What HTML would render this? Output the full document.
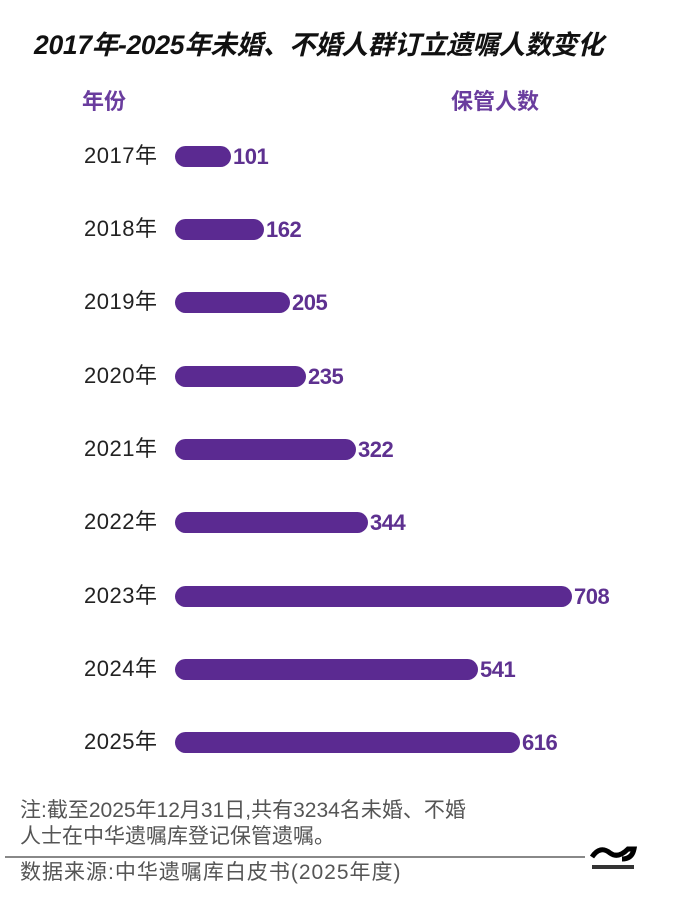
<!DOCTYPE html>
<html><head><meta charset="utf-8"><style>
body{margin:0;width:680px;height:923px;background:#fff;position:relative;font-family:"Liberation Sans","Noto Sans CJK SC",sans-serif;overflow:hidden}
.t{position:absolute;white-space:nowrap;line-height:1}
.title{left:34px;top:32px;font-size:26.5px;font-weight:bold;font-style:italic;color:#111;letter-spacing:-0.3px}
.h{top:91px;font-size:22px;font-weight:bold;color:#6a3d9e}
.y{left:84px;font-size:22px;color:#222;letter-spacing:0.5px}
.bar{position:absolute;left:175px;height:21px;border-radius:11px;background:#5b2a91}
.v{font-size:22px;font-weight:bold;color:#5e3190;letter-spacing:-0.5px}
.n{font-size:21px;color:#555;left:20px;letter-spacing:0px}
</style></head><body>
<div class="t title">2017年-2025年未婚、不婚人群订立遗嘱人数变化</div>
<div class="t h" style="left:82px">年份</div>
<div class="t h" style="left:451px">保管人数</div>

<div class="t y" style="top:145px">2017年</div><div class="bar" style="top:146px;width:56px"></div><div class="t v" style="left:233px;top:146px">101</div>
<div class="t y" style="top:218px">2018年</div><div class="bar" style="top:219px;width:89px"></div><div class="t v" style="left:266px;top:219px">162</div>
<div class="t y" style="top:291px">2019年</div><div class="bar" style="top:292px;width:115px"></div><div class="t v" style="left:292px;top:292px">205</div>
<div class="t y" style="top:365px">2020年</div><div class="bar" style="top:366px;width:131px"></div><div class="t v" style="left:308px;top:366px">235</div>
<div class="t y" style="top:438px">2021年</div><div class="bar" style="top:439px;width:181px"></div><div class="t v" style="left:358px;top:439px">322</div>
<div class="t y" style="top:511px">2022年</div><div class="bar" style="top:512px;width:193px"></div><div class="t v" style="left:370px;top:512px">344</div>
<div class="t y" style="top:585px">2023年</div><div class="bar" style="top:586px;width:397px"></div><div class="t v" style="left:574px;top:586px">708</div>
<div class="t y" style="top:658px">2024年</div><div class="bar" style="top:659px;width:303px"></div><div class="t v" style="left:480px;top:659px">541</div>
<div class="t y" style="top:731px">2025年</div><div class="bar" style="top:732px;width:345px"></div><div class="t v" style="left:522px;top:732px">616</div>

<div class="t n" style="top:800px">注:截至2025年12月31日,共有3234名未婚、不婚</div>
<div class="t n" style="top:826px">人士在中华遗嘱库登记保管遗嘱。</div>
<div style="position:absolute;left:5px;top:856px;width:580px;height:2px;background:#888"></div>
<div class="t n" style="top:862px;letter-spacing:1px">数据来源:中华遗嘱库白皮书(2025年度)</div>
<svg style="position:absolute;left:588px;top:843px" width="50" height="30"><path d="M4 14 Q12 2 22 10 Q30 16 40 6 L46 6 Q44 16 34 16" stroke="#000" stroke-width="5" fill="none"/><rect x="4" y="22" width="42" height="4" fill="#333"/></svg>
</body></html>
